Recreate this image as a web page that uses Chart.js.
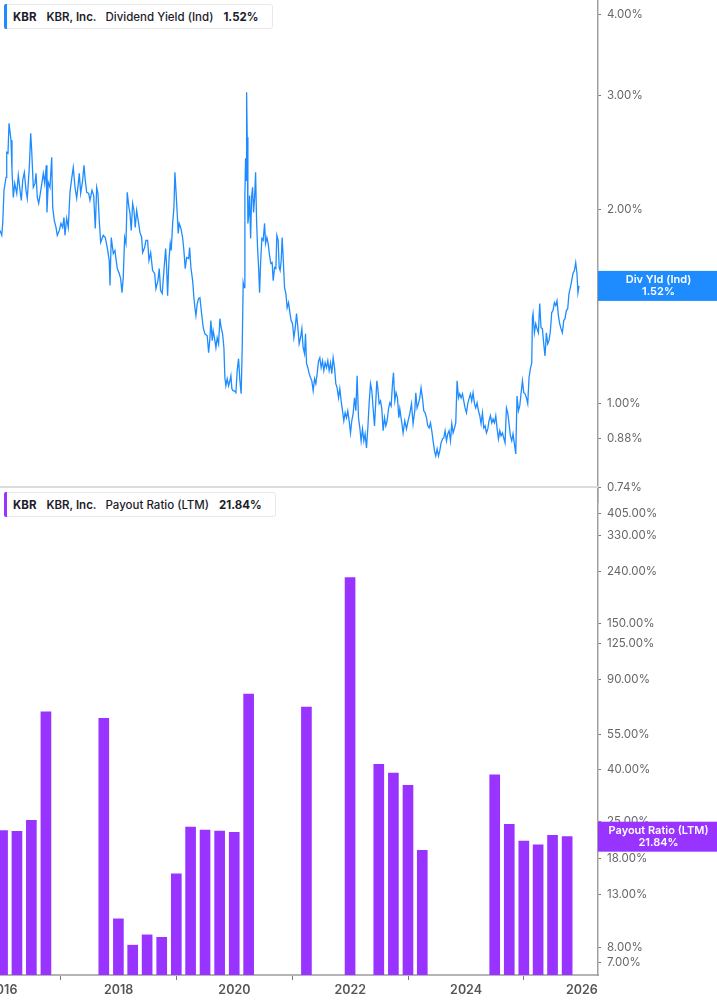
<!DOCTYPE html>
<html>
<head>
<meta charset="utf-8">
<script src="https://cdn.jsdelivr.net/npm/chart.js@4.4.1/dist/chart.umd.min.js"></script>
<style>
  html, body { margin: 0; padding: 0; background: #fff; }
  body { width: 717px; height: 1005px; position: relative; overflow: hidden; font-family: Inter, "Noto Sans", sans-serif; }
  #top { position: absolute; left: 0; top: 0; }
  #bottom { position: absolute; left: 0; top: 487px; }
  .divider { position: absolute; left: 0; top: 486px; width: 598px; height: 2px; background: #dcdcdc; }
  .legend { position: absolute; left: 4px; height: 25px; background: #fff; border: 1px solid #e8e8e8; border-radius: 3px;
            display: flex; align-items: center; font-size: 11.5px; color: #1c1c2a; box-sizing: border-box; padding-left: 8px; padding-right: 12px; }
  .legend .bar { position: absolute; left: -1px; top: -1px; bottom: -1px; width: 3px; border-radius: 2px 0 0 2px; }
  .legend span { white-space: nowrap; }
  .legend .t { font-weight: 700; margin-right: 10px; }
  .legend .c { font-weight: 600; margin-right: 9px; }
  .legend .m { font-weight: 500; margin-right: 10px; }
  .legend .v { font-weight: 700; }
</style>
</head>
<body>
<canvas id="top" width="717" height="503" style="width:717px;height:503px"></canvas>
<canvas id="bottom" width="717" height="518" style="width:717px;height:518px"></canvas>
<div class="divider"></div>
<div class="legend" id="leg1" style="top:4px;width:269px;"><div class="bar" style="background:#1e8cff"></div>
  <span class="t">KBR</span><span class="c">KBR, Inc.</span><span class="m">Dividend Yield (Ind)</span><span class="v">1.52%</span></div>
<div class="legend" id="leg2" style="top:492px;width:272px;"><div class="bar" style="background:#9933ff"></div>
  <span class="t">KBR</span><span class="c">KBR, Inc.</span><span class="m">Payout Ratio (LTM)</span><span class="v">21.84%</span></div>
<script>
// ---------------- DATA ----------------
const yearTicks = [2016, 2018, 2020, 2022, 2024, 2026];
const yieldTicks = [0.74, 0.88, 1.00, 2.00, 3.00, 4.00];
const payoutTicks = [7, 8, 13, 18, 25, 40, 55, 90, 125, 150, 240, 330, 405];

const lastYield = 1.52;
const lastPayout = 21.84;

// Dividend yield (Ind), % ; time as decimal years
const yieldYears = [
2015.953,2015.983,2016.000,2016.022,2016.057,2016.069,2016.091,2016.109,2016.143,2016.160,
2016.183,2016.207,2016.242,2016.269,2016.299,2016.321,2016.345,2016.373,2016.402,2016.424,
2016.459,2016.483,2016.500,2016.528,2016.557,2016.575,2016.597,2016.621,2016.644,2016.678,
2016.701,2016.725,2016.752,2016.764,2016.787,2016.816,2016.846,2016.863,2016.890,2016.920,
2016.942,2016.977,2017.006,2017.035,2017.058,2017.075,2017.104,2017.132,2017.161,2017.191,
2017.218,2017.248,2017.277,2017.305,2017.322,2017.346,2017.380,2017.403,2017.425,2017.450,
2017.484,2017.506,2017.541,2017.570,2017.598,2017.622,2017.644,2017.667,2017.691,2017.736,
2017.770,2017.805,2017.839,2017.852,2017.874,2017.909,2017.938,2017.955,2017.978,2018.012,
2018.036,2018.059,2018.081,2018.105,2018.128,2018.150,2018.174,2018.197,2018.219,2018.243,
2018.266,2018.288,2018.312,2018.347,2018.369,2018.399,2018.416,2018.450,2018.473,2018.502,
2018.525,2018.554,2018.588,2018.623,2018.645,2018.680,2018.702,2018.726,2018.754,2018.783,
2018.813,2018.830,2018.847,2018.870,2018.892,2018.909,2018.934,2018.956,2018.973,2018.991,
2019.013,2019.030,2019.047,2019.077,2019.106,2019.128,2019.151,2019.175,2019.210,2019.227,
2019.249,2019.279,2019.301,2019.318,2019.336,2019.358,2019.382,2019.405,2019.434,2019.462,
2019.491,2019.531,2019.555,2019.577,2019.594,2019.617,2019.634,2019.658,2019.681,2019.703,
2019.727,2019.750,2019.772,2019.796,2019.819,2019.836,2019.853,2019.876,2019.900,2019.922,
2019.940,2019.957,2019.979,2020.003,2020.026,2020.048,2020.072,2020.095,2020.117,2020.135,
2020.152,2020.169,2020.181,2020.193,2020.204,2020.211,2020.221,2020.233,2020.250,2020.262,
2020.280,2020.297,2020.314,2020.331,2020.349,2020.366,2020.383,2020.400,2020.418,2020.435,
2020.452,2020.474,2020.497,2020.521,2020.538,2020.561,2020.583,2020.607,2020.630,2020.652,
2020.670,2020.694,2020.716,2020.733,2020.756,2020.773,2020.790,2020.808,2020.825,2020.842,
2020.866,2020.889,2020.911,2020.935,2020.958,2020.980,2021.004,2021.027,2021.049,2021.073,
2021.096,2021.118,2021.142,2021.165,2021.187,2021.211,2021.228,2021.246,2021.268,2021.291,
2021.315,2021.337,2021.360,2021.384,2021.406,2021.429,2021.453,2021.475,2021.498,2021.522,
2021.544,2021.567,2021.591,2021.613,2021.636,2021.660,2021.682,2021.705,2021.729,2021.751,
2021.774,2021.798,2021.820,2021.843,2021.867,2021.889,2021.912,2021.936,2021.958,2021.981,
2022.005,2022.027,2022.050,2022.074,2022.097,2022.119,2022.143,2022.166,2022.188,2022.212,
2022.235,2022.257,2022.281,2022.304,2022.326,2022.350,2022.373,2022.395,2022.419,2022.442,
2022.459,2022.477,2022.499,2022.523,2022.545,2022.568,2022.592,2022.614,2022.637,2022.661,
2022.683,2022.706,2022.730,2022.747,2022.770,2022.792,2022.816,2022.839,2022.856,2022.885,
2022.913,2022.942,2022.971,2022.999,2023.028,2023.058,2023.085,2023.115,2023.132,2023.154,
2023.178,2023.201,2023.223,2023.248,2023.270,2023.293,2023.317,2023.339,2023.362,2023.386,
2023.408,2023.431,2023.455,2023.477,2023.500,2023.524,2023.546,2023.569,2023.593,2023.615,
2023.638,2023.662,2023.684,2023.707,2023.731,2023.753,2023.776,2023.800,2023.822,2023.845,
2023.869,2023.891,2023.914,2023.938,2023.960,2023.983,2024.007,2024.029,2024.052,2024.076,
2024.098,2024.121,2024.145,2024.167,2024.190,2024.214,2024.237,2024.259,2024.283,2024.306,
2024.328,2024.352,2024.375,2024.397,2024.421,2024.444,2024.466,2024.490,2024.513,2024.535,
2024.559,2024.582,2024.604,2024.628,2024.651,2024.673,2024.697,2024.720,2024.742,2024.766,
2024.789,2024.811,2024.835,2024.858,2024.880,2024.904,2024.927,2024.949,2024.973,2024.996,
2025.018,2025.042,2025.065,2025.087,2025.111,2025.134,2025.146,2025.156,2025.180,2025.203,
2025.225,2025.249,2025.272,2025.294,2025.318,2025.341,2025.363,2025.387,2025.410,2025.432,
2025.456,2025.479,2025.501,2025.525,2025.548,2025.570,2025.594,2025.617,2025.639,2025.663,
2025.686,2025.708,2025.732,2025.755,2025.777,2025.801,2025.824,2025.846,2025.870,2025.893,
2025.915,2025.932,2025.950
];
const yieldValues = [
1.853,1.821,1.900,2.138,2.240,2.450,2.441,2.717,2.557,2.297,
2.085,2.192,2.115,2.256,2.138,2.063,2.216,2.280,2.138,2.078,
2.321,2.622,2.467,2.161,2.192,2.272,2.085,2.041,2.100,2.200,
2.272,2.192,2.338,1.976,2.200,2.161,2.406,2.012,1.920,1.873,
1.821,1.853,1.900,1.873,1.941,1.821,1.934,1.873,2.123,2.232,
2.321,2.161,2.078,2.192,2.272,2.115,2.216,2.338,2.216,2.123,
2.115,2.063,2.138,2.100,1.866,2.161,2.115,1.920,1.775,1.821,
1.807,1.743,1.664,1.522,1.807,1.706,1.725,1.676,1.617,1.589,
1.560,1.484,1.566,1.807,1.768,2.123,2.027,1.969,1.853,2.041,
1.990,1.873,1.990,1.900,1.840,1.807,1.712,1.743,1.788,1.788,
1.664,1.712,1.606,1.589,1.505,1.549,1.617,1.495,1.479,1.606,
1.737,1.623,1.468,1.664,1.768,1.725,1.900,2.012,2.280,2.138,
1.969,1.833,1.900,1.866,1.807,1.725,1.617,1.682,1.676,1.743,
1.623,1.549,1.458,1.406,1.367,1.427,1.453,1.458,1.377,1.309,
1.281,1.272,1.197,1.259,1.343,1.250,1.295,1.259,1.219,1.263,
1.236,1.352,1.309,1.281,1.219,1.095,1.064,1.091,1.064,1.083,
1.103,1.053,1.045,1.045,1.038,1.123,1.172,1.083,1.034,1.219,
1.538,1.511,2.100,2.397,2.216,3.036,2.584,1.900,1.969,2.100,
1.801,2.085,2.161,1.976,2.085,2.280,1.920,1.743,1.623,1.484,
1.646,1.801,1.788,1.900,1.768,1.807,1.768,1.694,1.646,1.652,
1.549,1.623,1.617,1.821,1.788,1.623,1.606,1.664,1.807,1.682,
1.511,1.479,1.406,1.432,1.382,1.343,1.328,1.263,1.305,1.377,
1.309,1.236,1.263,1.305,1.219,1.193,1.281,1.151,1.135,1.111,
1.095,1.083,1.045,1.091,1.072,1.111,1.163,1.176,1.135,1.163,
1.123,1.155,1.135,1.163,1.123,1.155,1.111,1.176,1.135,1.072,
1.056,1.019,1.053,1.008,0.973,0.939,0.966,0.949,0.973,0.939,
0.899,0.939,0.962,1.019,0.973,1.103,0.949,0.915,0.874,0.912,
0.874,0.896,0.852,0.915,0.998,1.072,1.045,0.983,0.922,1.008,
1.083,1.053,0.998,1.008,0.980,0.906,0.949,0.922,0.939,0.980,
1.001,0.990,1.072,1.115,1.008,1.038,1.019,0.949,0.980,0.939,
0.899,0.939,0.912,0.939,0.962,0.998,0.929,0.973,1.038,0.983,
0.998,1.019,1.056,1.016,0.973,0.966,0.949,0.922,0.915,0.932,
0.906,0.874,0.843,0.828,0.849,0.828,0.843,0.868,0.880,0.883,
0.906,0.874,0.896,0.906,0.874,0.929,0.899,0.915,0.932,1.083,
1.019,1.034,1.019,1.034,1.008,0.983,0.966,0.998,1.016,1.034,
1.008,1.038,0.998,0.983,1.001,0.973,0.956,0.929,0.966,0.915,
0.922,0.899,0.912,0.939,0.956,0.932,0.945,0.932,0.956,0.915,
0.880,0.906,0.890,0.899,0.883,0.868,0.983,0.966,0.929,0.890,
0.874,0.896,0.864,0.834,1.026,0.973,0.990,1.034,1.083,1.038,
1.034,1.019,0.998,1.095,1.131,1.155,1.357,1.377,1.286,1.328,
1.305,1.286,1.427,1.309,1.305,1.236,1.184,1.286,1.236,1.250,
1.295,1.382,1.392,1.432,1.417,1.442,1.367,1.328,1.305,1.286,
1.343,1.352,1.392,1.401,1.479,1.511,1.549,1.589,1.606,1.652,
1.589,1.484,1.520
];

// Payout ratio (LTM), % ; quarter-end dates
const payoutDates = [
'2015-12-31','2016-03-31','2016-06-30','2016-09-30','2017-09-30','2017-12-31','2018-03-31','2018-06-30',
'2018-09-30','2018-12-31','2019-03-31','2019-06-30','2019-09-30','2019-12-31','2020-03-31','2021-03-31',
'2021-12-31','2022-06-30','2022-09-30','2022-12-31','2023-03-31','2024-06-30','2024-09-30','2024-12-31',
'2025-03-31','2025-06-30','2025-09-30'
];
const payoutValues = [
23.1,22.9,25.3,67.5,63.6,10.4,8.2,9.0,
8.8,15.6,23.8,23.2,23.0,22.7,79.2,70.4,
226.7,42.0,38.8,34.7,19.3,38.2,24.4,21.0,
20.3,22.1,21.84
];

// ---------------- CHARTS ----------------
function toYear(s) {
  const [y, m, d] = s.split('-').map(Number);
  const start = Date.UTC(y, 0, 1), end = Date.UTC(y + 1, 0, 1);
  return y + (Date.UTC(y, m - 1, d) - start) / (end - start);
}

const X_MIN = 2015.953, X_MAX = 2026.278;
const BLUE = '#1e8cff', PURPLE = '#9933ff';
Chart.defaults.font.family = 'Inter, "Noto Sans", sans-serif';
Chart.defaults.animation = false;

const sideLabel = {
  id: 'sideLabel',
  afterDraw(chart, args, o) {
    const y = chart.scales.y.getPixelForValue(o.value);
    const ctx = chart.ctx;
    const left = chart.chartArea.right;
    const w = chart.width - left;
    ctx.save();
    ctx.fillStyle = o.color;
    ctx.fillRect(left, y - 15, w, 30);
    ctx.fillStyle = '#ffffff';
    ctx.font = '600 11px Inter, "Noto Sans", sans-serif';
    ctx.textAlign = 'center';
    ctx.textBaseline = 'middle';
    ctx.fillText(o.line1, left + w / 2 + 1, y - 6);
    ctx.fillText(o.line2, left + w / 2 + 1, y + 6);
    ctx.restore();
  }
};

function yAxis(min, max, ticks) {
  return {
    type: 'logarithmic', position: 'right', min, max,
    afterBuildTicks: s => { s.ticks = ticks.map(v => ({ value: v })); },
    afterFit: s => { s.width = 119; s.paddingTop = 0; s.paddingBottom = 0; },
    border: { display: true, color: '#a0a0a0', width: 1.5 },
    grid: { drawOnChartArea: false, drawTicks: true, tickLength: 3, color: '#777', lineWidth: 1 },
    ticks: { autoSkip: false, padding: 6, color: '#666', font: { size: 11.5 },
             callback: v => Number(v).toFixed(2) + '%' }
  };
}

new Chart(document.getElementById('top'), {
  type: 'line',
  data: {
    datasets: [{
      data: yieldYears.map((x, i) => ({ x, y: yieldValues[i] })),
      borderColor: BLUE, borderWidth: 1.3, pointRadius: 0, tension: 0
    }]
  },
  options: {
    responsive: false, maintainAspectRatio: false,
    layout: { padding: 0 },
    plugins: { legend: { display: false }, tooltip: { enabled: false },
      sideLabel: { value: lastYield, color: BLUE, line1: 'Div Yld (Ind)', line2: lastYield.toFixed(2) + '%' } },
    scales: {
      x: { type: 'linear', display: false, min: X_MIN, max: X_MAX,
           ticks: { display: false }, grid: { display: false }, border: { display: false },
           afterFit: s => { s.height = 0; s.paddingLeft = 0; s.paddingRight = 0; s.paddingTop = 0; s.paddingBottom = 0; } },
      y: yAxis(0.738, 4.22, yieldTicks)
    }
  },
  plugins: [sideLabel]
});

new Chart(document.getElementById('bottom'), {
  type: 'bar',
  data: {
    datasets: [{
      data: payoutDates.map((d, i) => ({ x: toYear(d), y: payoutValues[i] })),
      backgroundColor: PURPLE, borderWidth: 0, barThickness: 10
    }]
  },
  options: {
    responsive: false, maintainAspectRatio: false,
    layout: { padding: 0 },
    plugins: { legend: { display: false }, tooltip: { enabled: false },
      sideLabel: { value: lastPayout, color: PURPLE, line1: 'Payout Ratio (LTM)', line2: lastPayout.toFixed(2) + '%' } },
    scales: {
      x: {
        type: 'linear', position: 'bottom', min: X_MIN, max: X_MAX, offset: false,
        afterBuildTicks: s => { s.ticks = yearTicks.map(v => ({ value: v })); },
        afterFit: s => { s.height = 30; s.paddingLeft = 0; s.paddingRight = 0; },
        border: { display: true, color: '#b5b5b5', width: 2 },
        grid: { drawOnChartArea: false, drawTicks: true, tickLength: 5, color: '#777' },
        ticks: { autoSkip: false, maxRotation: 0, padding: 3, color: '#555', font: { size: 12.5, weight: '600' },
                 callback: v => String(v) }
      },
      y: yAxis(6.264, 513.6, payoutTicks)
    }
  },
  plugins: [sideLabel]
});
</script>
</body>
</html>
